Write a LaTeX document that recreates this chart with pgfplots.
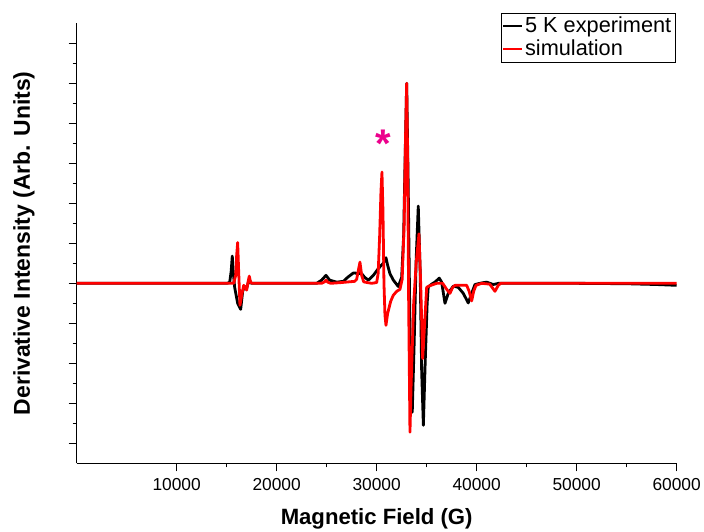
\documentclass[border=0pt]{standalone}
\usepackage{fontspec}
\setmainfont{Liberation Sans}
\usepackage{pgfplots}
\pgfplotsset{compat=1.18}
\definecolor{starpink}{RGB}{236,0,140}

\begin{document}
\begin{tikzpicture}
% fix page to the reference's 704x532 px (1 px = 0.75 pt)
\useasboundingbox (-57.5pt,-51.5pt) rectangle (470.5pt,347.5pt);
\begin{axis}[
    name=ax, at={(0,0)}, anchor=south west,
    scale only axis,
    width=450pt, height=330pt,
    xmin=0, xmax=60000,
    ymin=-4.5, ymax=6.5,
    axis lines*=left,
    axis line style={line width=1pt},
    tick align=outside,
    major tick length=6pt, minor tick length=3pt,
    every tick/.style={black, line width=1pt},
    xtick={10000,20000,...,60000},
    minor x tick num=1,
    ytick={-4,-3,...,6},
    minor y tick num=1,
    yticklabels={},
    scaled x ticks=false,
    /pgf/number format/1000 sep={},
    /pgf/number format/assume math mode=true,
    tick label style={font=\fontsize{13}{15}\selectfont},
    xticklabel style={yshift=-2pt},
    xlabel={Magnetic Field (G)},
    ylabel={Derivative Intensity (Arb. Units)},
    xlabel style={font=\fontsize{16.6}{19}\selectfont\bfseries,
        at={(axis description cs:0.5,-0.127)}, anchor=center},
    ylabel style={font=\fontsize{17.2}{19}\selectfont\bfseries,
        at={(axis description cs:-0.088,0.5)}, anchor=center},
    legend style={at={(rel axis cs:0.9983,1.024)}, anchor=north east,
        draw=black, line width=0.6pt, inner sep=1pt,
        font=\fontsize{16.3}{18.75}\selectfont,
        legend cell align=left},
    legend image code/.code={\draw[#1] (0pt,0pt) -- (14pt,0pt);},
    every legend image post/.style={line width=1pt},
    clip=false,
]
% 5 K experiment
\addplot[black, line width=2.1pt, line join=round] coordinates {
(0,0)(15000,0)(15300,0.02)(15450,0.3)(15560,0.68)(15650,0.3)(15800,-0.1)(16100,-0.5)
(16400,-0.65)(16600,-0.2)(16800,-0.08)(17000,-0.12)(17250,0.1)(17450,0)
(24000,0)(24500,0.08)(24930,0.2)(25300,0.08)(26000,0.03)(26670,0.05)(27100,0.15)
(27670,0.26)(28100,0.25)(28500,0.24)(28800,0.15)(29170,0.08)(29670,0.2)(30170,0.37)
(30650,0.5)(30930,0.64)(31100,0.45)(31330,0.24)(31670,0.08)(32160,-0.08)(32500,0.15)
(32700,1.2)(32850,3.2)(33000,5.0)(33150,2.5)(33350,-1.5)(33560,-3.22)(33750,-1.5)
(33950,0.6)(34160,1.93)(34350,0.3)(34500,-2.2)(34670,-3.55)(34850,-2.0)(35050,-0.5)
(35160,-0.09)(35500,-0.02)(35830,0.03)(36260,0.13)(36500,0.03)(36830,-0.5)(37160,-0.25)
(37660,-0.07)(38160,-0.1)(38660,-0.25)(39160,-0.49)(39500,-0.25)(39830,-0.03)
(40500,0.01)(41000,0.03)(41660,-0.03)(42200,0)(50000,0)(55000,-0.01)(58000,-0.03)(60000,-0.05)
};
\addlegendentry{5 K experiment}
% simulation
\addplot[red, line width=2.1pt, line join=round] coordinates {
(0,0)(15700,0)(15900,0.2)(16000,0.7)(16100,1.02)(16200,0.3)(16330,-0.55)(16500,-0.3)
(16700,-0.05)(16850,-0.1)(17000,-0.17)(17150,0.05)(17260,0.18)(17400,0.02)(17600,0)
(24500,0)(24800,0.04)(24930,0.08)(25100,0.03)(25400,0)(26500,0.02)(27800,0.05)(28000,0.1)
(28150,0.3)(28330,0.53)(28500,0.2)(28700,0.04)(28830,0.03)(29500,0.0)(30000,0.02)
(30150,0.25)(30300,1.2)(30430,2.3)(30530,2.78)(30630,1.8)(30730,0.0)(30830,-0.8)
(30930,-1.05)(31100,-0.75)(31400,-0.45)(31660,-0.3)(32000,-0.2)(32330,-0.15)(32550,0.1)
(32750,1.5)(32900,3.8)(33000,5.0)(33100,3.0)(33200,-0.5)(33330,-3.72)(33450,-2.5)
(33700,-0.5)(33950,0.5)(34230,1.24)(34400,0.0)(34600,-1.88)(34800,-1.0)(35000,-0.1)
(35300,-0.06)(35660,-0.03)(36000,0.0)(36600,0.0)(37000,-0.15)(37330,-0.25)(37600,-0.1)
(37830,-0.05)(39000,-0.05)(39250,-0.2)(39500,-0.44)(39700,-0.2)(39930,-0.05)(40500,0)
(41300,-0.02)(41600,-0.12)(41830,-0.2)(42160,-0.05)(42400,0)(60000,0)
};
\addlegendentry{simulation}
\node[text=starpink, font=\fontsize{30}{30}\selectfont\bfseries] at (axis cs:30660,3.5) {*};
\end{axis}
\end{tikzpicture}
\end{document}
